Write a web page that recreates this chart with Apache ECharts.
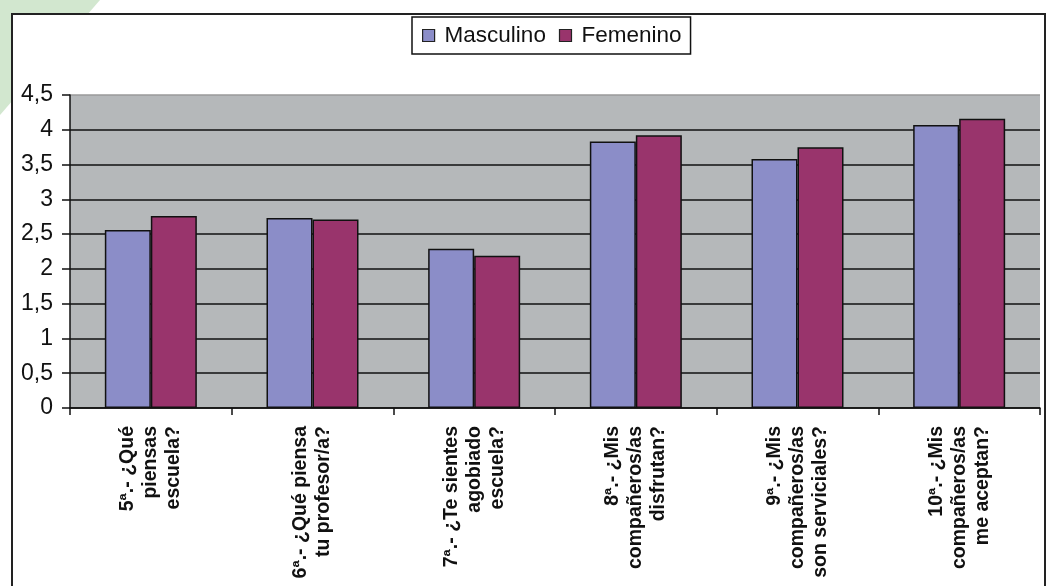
<!DOCTYPE html>
<html>
<head>
<meta charset="utf-8">
<script src="https://cdn.jsdelivr.net/npm/echarts@6/dist/echarts.min.js"></script>
<style>
  html, body { margin: 0; padding: 0; background: #ffffff; }
  #chart { width: 1055px; height: 586px; }
</style>
</head>
<body>
<div id="chart"></div>
<script>
// Survey questions (category axis)
const categories = [
  '5ª.- ¿Qué\npiensas\nescuela?',
  '6ª.- ¿Qué piensa\ntu profesor/a?',
  '7ª.- ¿Te sientes\nagobiado\nescuela?',
  '8ª.- ¿Mis\ncompañeros/as\ndisfrutan?',
  '9ª.- ¿Mis\ncompañeros/as\nson serviciales?',
  '10ª.- ¿Mis\ncompañeros/as\nme aceptan?'
];

// Mean scores by group
const masculino = [2.56, 2.73, 2.29, 3.83, 3.58, 4.07];
const femenino  = [2.76, 2.71, 2.19, 3.92, 3.75, 4.16];

// Value axis range
const yMin = 0;
const yMax = 4.5;
const yStep = 0.5;

const FONT = '"Liberation Sans", Arial, sans-serif';

const chart = echarts.init(document.getElementById('chart'), null, { renderer: 'canvas' });

// One colour per split line (index 0 = baseline); the top line is softer grey
const splitColors = [];
for (let v = yMin; v <= yMax + 1e-9; v += yStep) splitColors.push('#111111');
splitColors[splitColors.length - 1] = '#9a9a9a';

chart.setOption({
  animation: false,
  backgroundColor: '#ffffff',
  textStyle: { fontFamily: FONT },
  graphic: [
    {
      type: 'polygon',
      z: -20,
      silent: true,
      shape: { points: [[0, 0], [100, 0], [0, 115]] },
      style: { fill: '#d2e7cf' }
    },
    {
      type: 'rect',
      z: -10,
      silent: true,
      shape: { x: 12, y: 14, width: 1033, height: 610 },
      style: { fill: '#ffffff', stroke: '#222222', lineWidth: 2 }
    }
  ],
  legend: {
    left: 412,
    top: 17,
    padding: [7, 9, 7, 10],
    itemGap: 13,
    itemWidth: 12,
    itemHeight: 12,
    borderColor: '#111111',
    borderWidth: 1.5,
    backgroundColor: '#ffffff',
    icon: 'rect',
    textStyle: { fontFamily: FONT, fontSize: 22.5, color: '#111111', padding: [0, 0, 0, 5] },
    itemStyle: { borderColor: '#222222', borderWidth: 1.2 },
    data: ['Masculino', 'Femenino']
  },
  grid: {
    left: 70,
    right: 15,
    top: 95,
    bottom: 178,
    show: true,
    backgroundColor: '#b5b8ba',
    borderWidth: 0
  },
  xAxis: {
    type: 'category',
    data: categories,
    axisLine: { show: true, lineStyle: { color: '#111111', width: 1.5 } },
    axisTick: { show: true, length: 7, lineStyle: { color: '#111111', width: 1.5 } },
    axisLabel: {
      rotate: 90,
      margin: 18,
      interval: 0,
      fontFamily: FONT,
      fontSize: 19.5,
      fontWeight: 'bold',
      lineHeight: 23,
      color: '#111111'
    }
  },
  yAxis: {
    type: 'value',
    min: yMin,
    max: yMax,
    interval: yStep,
    axisLine: { show: true, lineStyle: { color: '#111111', width: 1.5 } },
    axisTick: { show: true, length: 8, lineStyle: { color: '#111111', width: 1.5 } },
    axisLabel: {
      margin: 17,
      fontFamily: FONT,
      fontSize: 23,
      color: '#111111',
      formatter: v => String(v).replace('.', ',')
    },
    splitLine: { show: true, lineStyle: { color: splitColors, width: 1.5 } }
  },
  series: [
    {
      name: 'Masculino',
      type: 'bar',
      data: masculino,
      barWidth: 46,
      barGap: '0%',
      itemStyle: { color: '#8b8dc8', borderColor: '#111111', borderWidth: 1.5 }
    },
    {
      name: 'Femenino',
      type: 'bar',
      data: femenino,
      barWidth: 46,
      barGap: '0%',
      itemStyle: { color: '#99346c', borderColor: '#111111', borderWidth: 1.5 }
    }
  ]
});
</script>
</body>
</html>
